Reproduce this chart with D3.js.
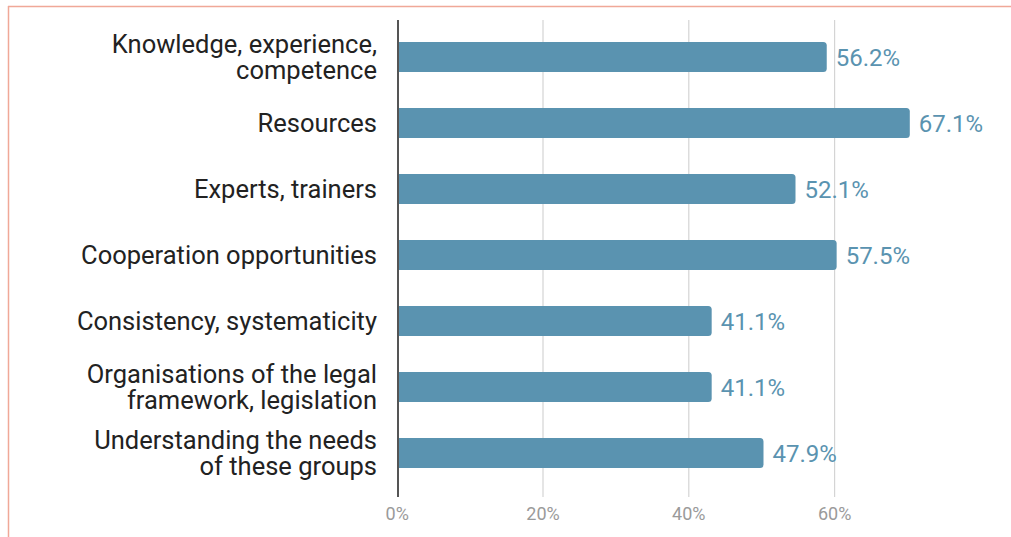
<!DOCTYPE html>
<html>
<head>
<meta charset="utf-8">
<script src="https://cdn.jsdelivr.net/npm/d3@7"></script>
<style>
  html, body { margin: 0; padding: 0; background: #fff; }
  svg { display: block; font-family: Roboto, "Noto Sans", sans-serif; }
</style>
</head>
<body>
<svg id="chart" width="1011" height="537"></svg>
<script>
// Categories (each entry is a list of label lines) and their shares in percent
const categories = [
  ["Knowledge, experience,", "competence"],
  ["Resources"],
  ["Experts, trainers"],
  ["Cooperation opportunities"],
  ["Consistency, systematicity"],
  ["Organisations of the legal", "framework, legislation"],
  ["Understanding the needs", "of these groups"]
];
const values = [56.2, 67.1, 52.1, 57.5, 41.1, 41.1, 47.9];
const tickValues = [0, 20, 40, 60];
const tickLabels = ["0%", "20%", "40%", "60%"];

const svg = d3.select("#chart");
const x0 = 398.5;
const barColor = "#5a93b0";

// Frame lines along the top and left edge
svg.append("line").attr("x1", 8).attr("x2", 1011).attr("y1", 6.5).attr("y2", 6.5)
  .attr("stroke", "#f0a898").attr("stroke-width", 1.5);
svg.append("line").attr("x1", 8.5).attr("x2", 8.5).attr("y1", 6).attr("y2", 537)
  .attr("stroke", "#f0a898").attr("stroke-width", 1.5);

const ids = categories.map((c, i) => i);
const y = d3.scaleBand().domain(ids).range([24, 486]).paddingInner(0.545).paddingOuter(0.2725);

// Bar lengths and axis gridlines use separate linear scales
const xBar = d3.scaleLinear().domain([0, 100]).range([x0, x0 + 762]);
const xAxis = d3.scaleLinear().domain([0, 100]).range([396.7, 396.7 + 729]);

// Gridlines and tick labels
const axis = d3.axisBottom(xAxis).tickValues(tickValues)
  .tickFormat((d, i) => tickLabels[i]).tickSize(0).tickPadding(0);
const gAxis = svg.append("g").attr("transform", "translate(0,497)").call(axis);
gAxis.select(".domain").remove();
gAxis.selectAll("text").attr("y", 10.5).attr("fill", "#9a9a9a")
  .style("font-size", "18px").style("font-family", "Roboto, sans-serif");
gAxis.selectAll(".tick").filter(d => d > 0).append("line")
  .attr("y1", 0).attr("y2", -477).attr("stroke", "#d4d4d4").attr("stroke-width", 1.2);

// Bars with rounded right ends
const bw = y.bandwidth();
const r = 3.5;
svg.append("g").selectAll("path").data(values).join("path")
  .attr("fill", barColor)
  .attr("d", (v, i) => {
    const xs = x0, xe = xBar(v), yt = y(i), yb = y(i) + bw;
    return `M${xs},${yt}H${xe - r}Q${xe},${yt} ${xe},${yt + r}V${yb - r}Q${xe},${yb} ${xe - r},${yb}H${xs}Z`;
  });

// Value labels
svg.append("g").selectAll("text").data(values).join("text")
  .attr("x", v => xBar(v) + 9)
  .attr("y", (v, i) => y(i) + bw / 2)
  .attr("dy", "0.36em")
  .attr("fill", barColor)
  .style("font-size", "24px")
  .text(v => v.toFixed(1) + "%");

// Category labels
const fs = 25.5;
const lab = svg.append("g").selectAll("text").data(categories).join("text")
  .attr("text-anchor", "end")
  .attr("fill", "#222")
  .style("font-size", fs + "px")
  .attr("x", 377)
  .attr("y", (c, i) => y(i) + bw / 2);
lab.selectAll("tspan").data(c => c.map((t, j) => ({ t, j, n: c.length }))).join("tspan")
  .attr("x", 377)
  .attr("dy", d => d.j === 0 ? (0.36 * fs - (d.n - 1) * 13) + "px" : "26px")
  .text(d => d.t);

// Vertical baseline at zero
svg.append("line").attr("x1", x0 - 0.5).attr("x2", x0 - 0.5).attr("y1", 20).attr("y2", 497)
  .attr("stroke", "#555").attr("stroke-width", 2);
</script>
</body>
</html>
